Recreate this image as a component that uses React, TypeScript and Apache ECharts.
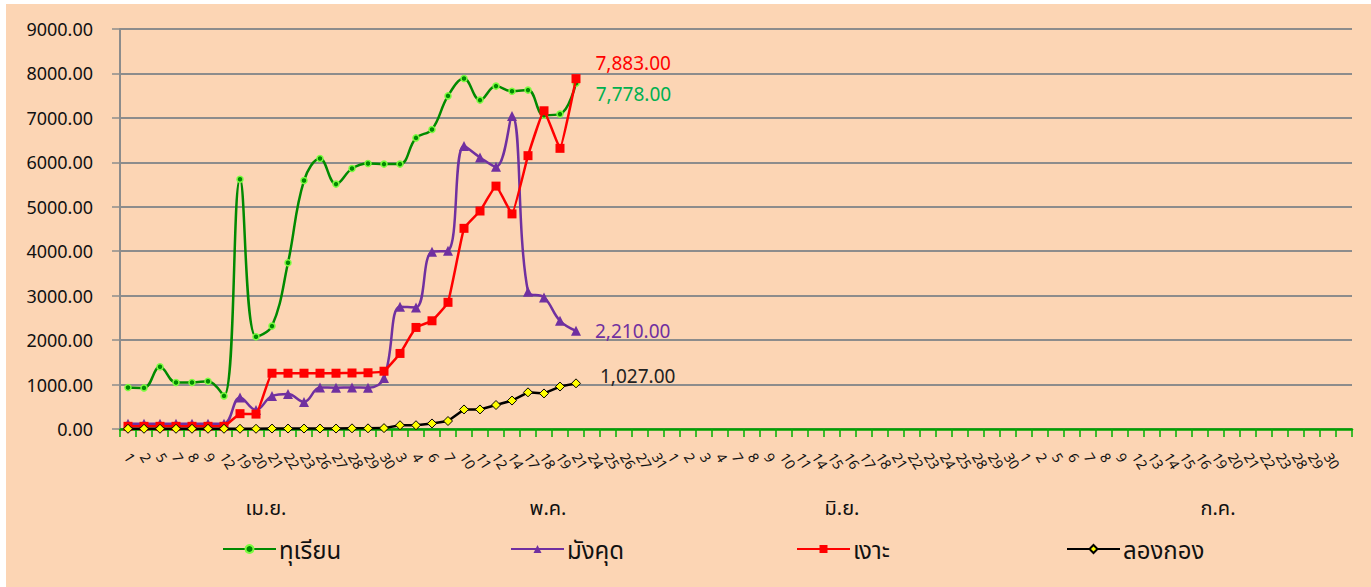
import React, { useEffect, useRef } from "react";
import * as echarts from "echarts";

const aprilDays = ["1","2","5","7","8","9","12","19","20","21","22","23","26","27","28","29","30"];
const mayDays = ["3","4","6","7","10","11","12","14","17","18","19","21","24","25","26","27","31"];
const juneDays = ["1","2","3","4","7","8","9","10","11","14","15","16","17","18","21","22","23","24","25","28","29","30"];
const julyDays = ["1","2","5","6","7","8","9","12","13","14","15","16","19","20","21","22","23","28","29","30",""];

const monthNames = ["เม.ย.", "พ.ค.", "มิ.ย.", "ก.ค."];

const durian = [935, 925, 1400, 1045, 1045, 1075, 745, 5620, 2075, 2315, 3740, 5590, 6085, 5510, 5860, 5975, 5960, 5960, 6550, 6740, 7495, 7885, 7400, 7715, 7600, 7625, 7060, 7085, 7778];
const mangosteen = [120, 120, 120, 120, 120, 120, 120, 710, 425, 740, 785, 610, 935, 930, 935, 930, 1150, 2750, 2735, 3990, 4010, 6365, 6110, 5900, 7040, 3090, 2960, 2435, 2210];
const rambutan = [60, 60, 60, 60, 60, 60, 60, 345, 335, 1255, 1255, 1255, 1255, 1255, 1260, 1265, 1300, 1700, 2285, 2435, 2850, 4515, 4905, 5465, 4840, 6150, 7160, 6315, 7883];
const longkong = [5, 5, 5, 5, 5, 5, 5, 5, 5, 10, 10, 10, 10, 10, 15, 15, 20, 85, 85, 125, 180, 440, 440, 540, 640, 825, 800, 955, 1027];

const seriesNames = ["ทุเรียน", "มังคุด", "เงาะ", "ลองกอง"];

const FONT = "'Noto Sans', 'Noto Sans Thai', Loma, 'DejaVu Sans', sans-serif";

function fmt(v: number) {
  return v.toLocaleString("en-US", { minimumFractionDigits: 2, maximumFractionDigits: 2 });
}

function withEndLabel(values: number[], color: string, offset: number[]) {
  return values.map((v, i) =>
    i === values.length - 1
      ? {
          value: v,
          label: {
            show: true,
            position: "right",
            offset,
            color,
            fontSize: 19,
            fontFamily: FONT,
            formatter: () => fmt(v),
          },
        }
      : v
  );
}

export default function App() {
  const ref = useRef<HTMLDivElement>(null);

  useEffect(() => {
    if (!ref.current) return;
    const chart = echarts.init(ref.current, undefined, { renderer: "svg" });
    const categories = [...aprilDays, ...mayDays, ...juneDays, ...julyDays];

    const legendLefts = [216, 504, 790, 1060];
    const monthX = [260, 542, 836, 1212];

    chart.setOption({
      animation: false,
      backgroundColor: "#FCD5B4",
      textStyle: { fontFamily: FONT },
      grid: { left: 114, top: 25, width: 1232, height: 400 },
      legend: seriesNames.map((n, i) => ({
        data: [n],
        left: legendLefts[i],
        top: 533,
        padding: 0,
        itemWidth: 53,
        itemHeight: 10,
        itemGap: 4,
        textStyle: { fontSize: 24, color: "#111", fontFamily: FONT, padding: [0, 0, 0, -2] },
      })),
      xAxis: {
        type: "category",
        data: categories,
        boundaryGap: true,
        axisLine: { show: true, lineStyle: { color: "#00A000", width: 2.5 } },
        axisTick: { show: true, interval: 0, length: 8, lineStyle: { color: "#00B000", width: 1.5 } },
        axisLabel: {
          interval: 0,
          rotate: -58,
          fontSize: 14,
          color: "#111",
          margin: 25,
          fontFamily: FONT,
        },
        splitLine: { show: false },
      },
      yAxis: {
        type: "value",
        min: 0,
        max: 9000,
        interval: 1000,
        axisLine: { show: true, lineStyle: { color: "#8c8c8c", width: 2 } },
        axisTick: { show: true, length: 8, lineStyle: { color: "#8c8c8c", width: 1.5 } },
        axisLabel: {
          formatter: (v: number) => v.toFixed(2),
          fontSize: 18,
          color: "#111",
          margin: 27,
          fontFamily: FONT,
        },
        splitLine: { show: true, lineStyle: { color: "#8c8c8c", width: 1.8 } },
      },
      graphic: monthNames.map((m, i) => ({
        type: "text",
        x: monthX[i],
        y: 503,
        style: {
          text: m,
          fontSize: 20,
          fontFamily: FONT,
          fill: "#111",
          align: "center",
          verticalAlign: "middle",
        },
      })),
      series: [
        {
          name: seriesNames[0],
          type: "line",
          smooth: 0.4,
          data: withEndLabel(durian, "#00B050", [11, 11]),
          symbol: "circle",
          symbolSize: 6,
          lineStyle: { color: "#008A00", width: 2.5 },
          itemStyle: { color: "#008A00", borderColor: "#7CFC40", borderWidth: 1.5 },
          z: 4,
        },
        {
          name: seriesNames[1],
          type: "line",
          smooth: 0.4,
          data: withEndLabel(mangosteen, "#7030A0", [9, 0]),
          symbol: "triangle",
          symbolSize: 10,
          lineStyle: { color: "#7030A0", width: 2.5 },
          itemStyle: { color: "#7030A0" },
          z: 3,
        },
        {
          name: seriesNames[2],
          type: "line",
          smooth: 0.1,
          data: withEndLabel(rambutan, "#FF0000", [10, -16]),
          symbol: "rect",
          symbolSize: 9,
          lineStyle: { color: "#FF0000", width: 2.5 },
          itemStyle: { color: "#FF0000" },
          z: 5,
        },
        {
          name: seriesNames[3],
          type: "line",
          smooth: false,
          data: withEndLabel(longkong, "#222222", [14, -7]),
          symbol: "diamond",
          symbolSize: 9,
          lineStyle: { color: "#000000", width: 2.5 },
          itemStyle: { color: "#FFFF00", borderColor: "#000000", borderWidth: 1 },
          z: 6,
        },
      ],
    });

    return () => chart.dispose();
  }, []);

  return (
    <div style={{ position: "absolute", left: 0, top: 0, width: 1371, height: 587, background: "#ffffff" }}>
      <div ref={ref} style={{ position: "absolute", left: 6, top: 4, width: 1365, height: 583 }} />
    </div>
  );
}
